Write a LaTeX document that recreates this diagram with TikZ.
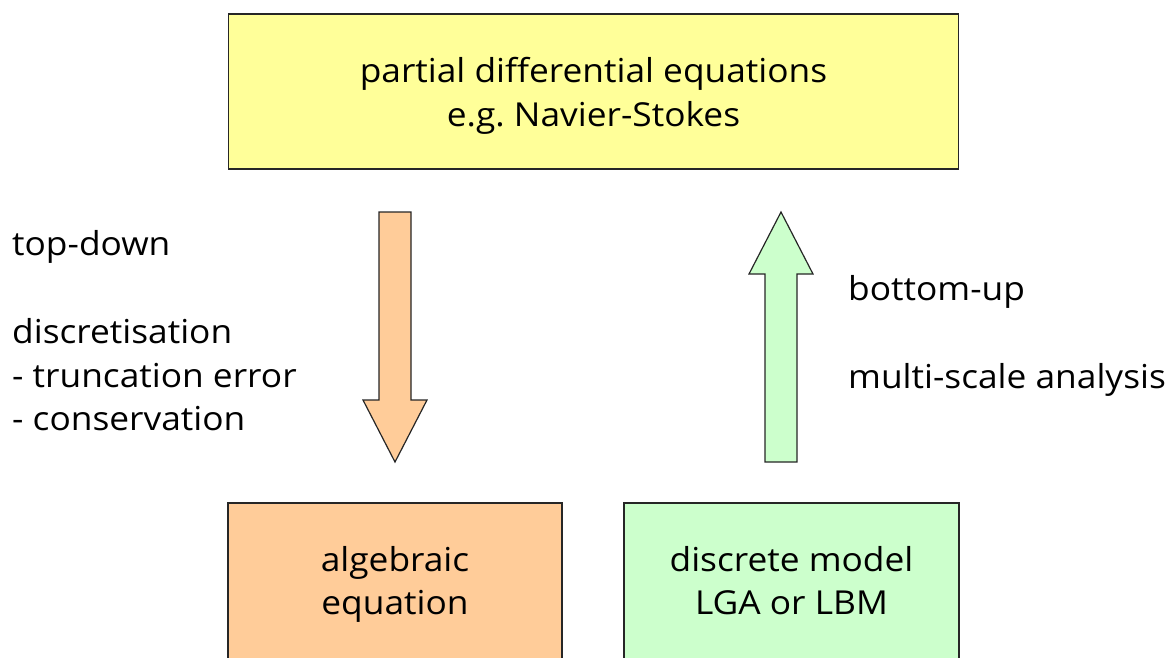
\documentclass[tikz,border=0pt]{standalone}
\usepackage{fontspec}
\setmainfont{Open Sans}[FakeStretch=1.07]
\frenchspacing
\newcommand{\topstrut}[1][33.5]{\rule{0pt}{#1pt}}
\newcommand{\botstrut}[1][8]{\rule[-#1pt]{0pt}{#1pt}}
\definecolor{pdeyellow}{HTML}{FFFF99}
\definecolor{algorange}{HTML}{FFCC99}
\definecolor{lbmgreen}{HTML}{CCFFCC}
\begin{document}
\begin{tikzpicture}[x=1pt,y=-1pt,line join=miter,
		font=\fontsize{33}{43.5}\selectfont,
		box/.style={draw=black!85,line width=1.2pt,align=center,inner sep=0},
		blockarrow/.style={draw=black!85,line width=1.2pt},
		remark/.style={anchor=base west,inner sep=0}]
			\useasboundingbox (0,0) rectangle (1166,657);
			\clip (0,0) rectangle (1166,657);
			% boxes
			\node[box,fill=pdeyellow,minimum width=730,minimum height=155] (pde) at (593.5,91.5) {\topstrut partial differential equations\\e.g. Navier-Stokes\botstrut};
			\node[box,fill=algorange,minimum width=334,minimum height=175] (alg) at (395,590.5) {\topstrut[25]algebraic\\equation\botstrut[20.5]};
			\node[box,fill=lbmgreen,minimum width=335,minimum height=175] (lbm) at (791.5,590.5) {\topstrut[25]discrete model\\LGA or LBM\botstrut[20.5]};
			% block arrows
			\draw[blockarrow,fill=algorange] (379,212) -- (411,212) -- (411,400) -- (427,400) -- (395,462) -- (363,400) -- (379,400) -- cycle;
			\draw[blockarrow,fill=lbmgreen] (765,462) -- (797,462) -- (797,274) -- (813,274) -- (781,212) -- (749,274) -- (765,274) -- cycle;
			% remarks
			\node[remark] (tdown) at (12,255) {top-down};
			\node[remark] (disc) at (12,343) {discretisation};
			\node[remark] (trunc) at (12,387) {- truncation error};
			\node[remark] (cons) at (12,430) {- conservation};
			\node[remark] (bup) at (848,300) {bottom-up};
			\node[remark] (msa) at (848,388) {multi-scale analysis};
		\end{tikzpicture}
\end{document}
